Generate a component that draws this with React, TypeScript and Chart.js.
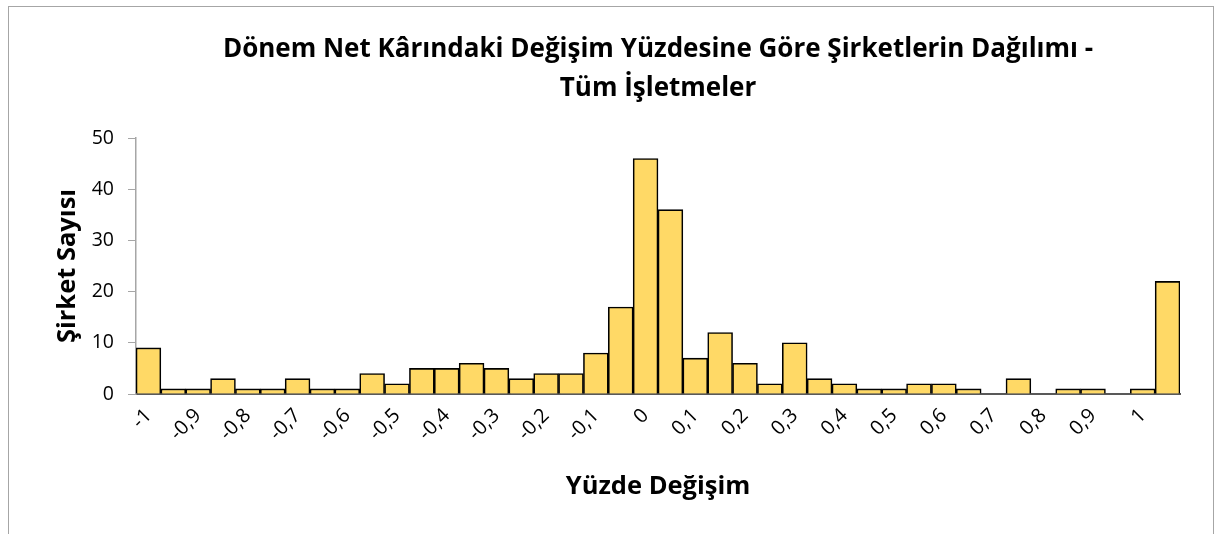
import React, { useEffect, useRef } from "react";
import { Chart, registerables } from "chart.js";

Chart.register(...registerables);

const categories: string[] = [
  "-1", "-0,95", "-0,9", "-0,85", "-0,8", "-0,75", "-0,7", "-0,65", "-0,6", "-0,55",
  "-0,5", "-0,45", "-0,4", "-0,35", "-0,3", "-0,25", "-0,2", "-0,15", "-0,1", "-0,05",
  "0", "0,05", "0,1", "0,15", "0,2", "0,25", "0,3", "0,35", "0,4", "0,45",
  "0,5", "0,55", "0,6", "0,65", "0,7", "0,75", "0,8", "0,85", "0,9", "0,95",
  "1", "1,05",
];

const counts: number[] = [
  9, 1, 1, 3, 1, 1, 3, 1, 1, 4,
  2, 5, 5, 6, 5, 3, 4, 4, 8, 17,
  46, 36, 7, 12, 6, 2, 10, 3, 2, 1,
  1, 2, 2, 1, 0, 3, 0, 1, 1, 0,
  1, 22,
];

const titleLines: string[] = [
  "Dönem Net Kârındaki Değişim Yüzdesine Göre Şirketlerin Dağılımı -",
  "Tüm İşletmeler",
];
const xTitle = "Yüzde Değişim";
const yTitle = "Şirket Sayısı";

const FONT = "'Open Sans', 'DejaVu Sans', sans-serif";

export default function App() {
  const ref = useRef<HTMLCanvasElement | null>(null);

  useEffect(() => {
    if (!ref.current) return;
    const chart = new Chart(ref.current, {
      type: "bar",
      data: {
        labels: categories,
        datasets: [
          {
            data: counts,
            backgroundColor: "#FFD966",
            borderColor: "#000000",
            borderWidth: 1.6,
            barPercentage: 1,
            categoryPercentage: 1,
          },
        ],
      },
      options: {
        responsive: false,
        animation: false,
        devicePixelRatio: 1,
        layout: { padding: { top: 0, left: 39, right: 33, bottom: 41 } },
        plugins: {
          legend: { display: false },
          tooltip: { enabled: false },
          title: {
            display: true,
            text: titleLines,
            fullSize: false,
            color: "#000000",
            font: { family: FONT, size: 26, weight: "bold", lineHeight: 1.5 },
            padding: { top: 23.5, bottom: 29.5 },
          },
        },
        scales: {
          x: {
            grid: { display: false, drawTicks: false },
            border: { display: true, color: "#595959", width: 2 },
            ticks: {
              autoSkip: false,
              maxRotation: 45,
              minRotation: 45,
              padding: 10,
              color: "#000000",
              font: { family: FONT, size: 20 },
              callback: (_v: any, i: number) => (i % 2 === 0 ? categories[i] : ""),
            },
            title: {
              display: true,
              text: xTitle,
              color: "#000000",
              font: { family: FONT, size: 25.5, weight: "bold" },
              padding: { top: 4, bottom: 4 },
            },
            afterFit: (s: any) => {
              s.height = 112;
            },
          },
          y: {
            min: 0,
            max: 50,
            ticks: {
              stepSize: 10,
              color: "#000000",
              padding: 14,
              font: { family: FONT, size: 19.5 },
            },
            grid: {
              display: true,
              drawOnChartArea: false,
              drawTicks: true,
              tickLength: 8,
              color: "#A6A6A6",
            },
            border: { display: true, color: "#A6A6A6", width: 1.5 },
            title: {
              display: true,
              text: yTitle,
              color: "#000000",
              font: { family: FONT, size: 25.5, weight: "bold" },
              padding: { top: 4, bottom: 4 },
            },
            afterFit: (s: any) => {
              s.width = 88;
            },
          },
        },
      },
    });
    return () => chart.destroy();
  }, []);

  return (
    <div
      style={{
        position: "fixed",
        left: 8,
        top: 6,
        width: 1206,
        height: 560,
        border: "1px solid #A6A6A6",
        boxSizing: "border-box",
        background: "#ffffff",
        overflow: "hidden",
      }}
    >
      <canvas ref={ref} width={1204} height={540} style={{ display: "block" }} />
    </div>
  );
}
